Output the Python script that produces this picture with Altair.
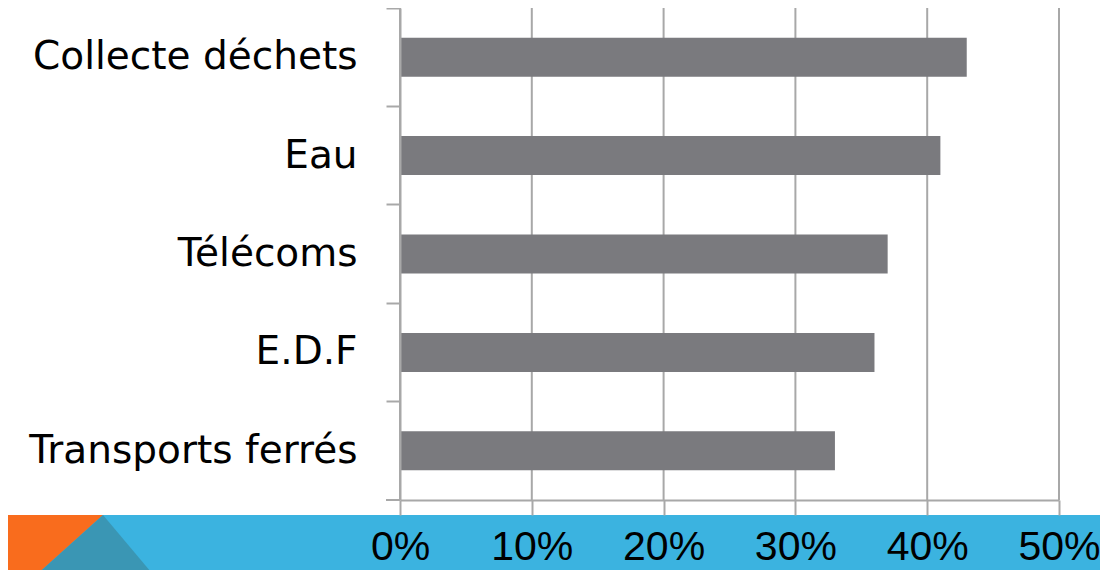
import altair as alt
import pandas as pd

# ---- data ----
categories = ["Collecte déchets", "Eau", "Télécoms", "E.D.F", "Transports ferrés"]
values = [0.43, 0.41, 0.37, 0.36, 0.33]
tick_values = [0.0, 0.1, 0.2, 0.3, 0.4, 0.5]

# ---- styling ----
BAR = "#7a7a7e"
GRID = "#a8a8a8"
BLUE = "#3bb3e0"
ORANGE = "#f96c1d"
DARK = "#3a96b4"

df = pd.DataFrame({"cat": categories, "v": values})
ticks_df = pd.DataFrame({"t": tick_values})
one = pd.DataFrame({"a": [0]})

xscale = alt.Scale(domain=[0, 0.5], nice=False, zero=True)
yscale = alt.Scale(paddingInner=0, paddingOuter=0)

# decorative footer band (slide theme)
band = alt.Chart(one).mark_rect(color=BLUE).encode(
    x=alt.value(-400), x2=alt.value(800), y=alt.value(507), y2=alt.value(620)
)
orange = alt.Chart(one).mark_point(
    shape="M -400 507 L -297 507 L -367 570 L -400 570 Z",
    size=4, filled=True, opacity=1, strokeWidth=0, color=ORANGE,
).encode(x=alt.value(0), y=alt.value(0))
dark = alt.Chart(one).mark_point(
    shape="M -297 507 L -367 570 L -244 570 Z",
    size=4, filled=True, opacity=1, strokeWidth=0, color=DARK,
).encode(x=alt.value(0), y=alt.value(0))

grid = alt.Chart(ticks_df).mark_rule(color=GRID, strokeWidth=2).encode(
    x=alt.X("t:Q", scale=xscale),
    y=alt.value(0), y2=alt.value(492),
)

bottom_tick = alt.Chart(one).mark_rule(color=GRID, strokeWidth=2).encode(
    x=alt.value(-14), x2=alt.value(0), y=alt.value(492)
)

bars = alt.Chart(df).mark_bar(color=BAR, size=39).encode(
    x=alt.X(
        "v:Q", scale=xscale,
        axis=alt.Axis(
            values=tick_values, format=".0%", grid=False, title=None,
            tickSize=15, tickWidth=2, tickColor=GRID,
            domainColor=GRID, domainWidth=2,
            labelFont="Liberation Sans", labelFontSize=41, labelColor="black",
            labelBaseline="alphabetic", labelPadding=44,
            labelFlush=False, labelOverlap=False, zindex=1,
        ),
    ),
    y=alt.Y(
        "cat:N", sort=categories, scale=yscale,
        axis=alt.Axis(
            title=None, bandPosition=0, grid=False,
            tickSize=14, tickWidth=2, tickColor=GRID,
            domainColor=GRID, domainWidth=2,
            labelFont="DejaVu Sans", labelFontSize=39, labelColor="black",
            labelPadding=29, labelLimit=500, zindex=1,
        ),
    ),
)

chart = alt.layer(band, orange, dark, grid, bars, bottom_tick).properties(
    width=659, height=492,
    autosize=alt.AutoSizeParams(type="none"),
    padding={"left": 392, "top": 0, "right": 41, "bottom": 70},
    background="white",
).configure_view(stroke=None)

chart.save("out.html", embed_options={"renderer": "svg", "actions": False})
